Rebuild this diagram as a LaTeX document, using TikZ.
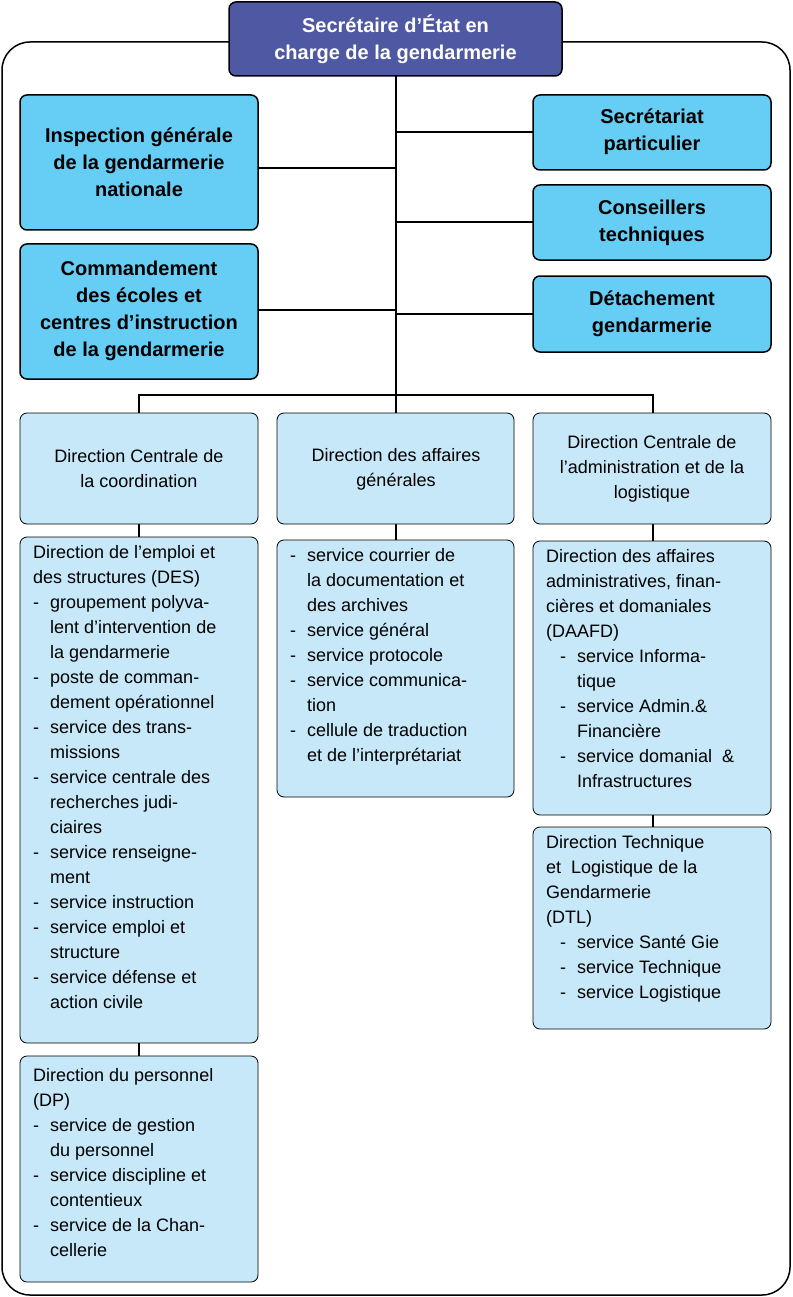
\documentclass[tikz,border=0pt]{standalone}
\usepackage{fontspec}
\setmainfont{Liberation Sans}
\definecolor{topc}{HTML}{4F58A2}
\definecolor{midc}{HTML}{66CDF5}
\definecolor{lowc}{HTML}{C7E8F8}
\newcommand{\itm}[1]{\makebox[17pt][l]{-}#1}
\newcommand{\cnt}[1]{\hspace*{17pt}#1}
\begin{document}
\begin{tikzpicture}[x=1pt,y=-1pt,
  bx/.style={draw=black,line width=1.2pt,rounded corners=7pt},
  topbox/.style={bx,fill=topc,line width=1.5pt},
  midbox/.style={bx,fill=midc,line width=1.5pt},
  lowbox/.style={bx,fill=lowc,line width=0.8pt},
  bold/.style={font=\fontsize{20}{27}\selectfont\bfseries,align=center},
  plain/.style={font=\fontsize{18}{25}\selectfont,align=center},
  lst/.style={font=\fontsize{18}{25}\selectfont,align=left,inner sep=0pt,anchor=north west},
  ln/.style={line width=1.5pt}]
\useasboundingbox (0,0) rectangle (792,1297);
\draw[line width=1.5pt,rounded corners=28pt] (2,42) rectangle (790,1295);
% connectors
\coordinate (tb) at (396,76);
\coordinate (bar) at (396,395);
\draw[ln] (tb) -- (bar);
\draw[ln] (258,168) -- (396,168);
\draw[ln] (258,310) -- (396,310);
\draw[ln] (396,132) -- (533,132);
\draw[ln] (396,222) -- (533,222);
\draw[ln] (396,314) -- (533,314);
\draw[ln] (139,413) -- (139,395) -- (653,395) -- (653,413);
\draw[ln] (396,395) -- (396,413);
\draw[ln] (139,524) -- (139,537);
\draw[ln] (139,1043) -- (139,1056);
\draw[ln] (396,524) -- (396,540);
\draw[ln] (653,524) -- (653,541);
\draw[ln] (653,815) -- (653,827);
% top
\draw[topbox] (229,2) rectangle (562,76);
\node[bold,text=white] (top) at (395.5,39) {Secrétaire d’État en\\charge de la gendarmerie};
% mid boxes
\draw[midbox] (20,95) rectangle (258,230);
\node[bold] (ig) at (139,162) {Inspection générale\\de la gendarmerie\\nationale};
\draw[midbox] (20,244) rectangle (258,379);
\node[bold] (ce) at (139,311) {Commandement\\des écoles et\\centres d’instruction\\de la gendarmerie};
\draw[midbox] (533,95) rectangle (771,170);
\node[bold] (sp) at (652,132) {Secrétariat\\particulier};
\draw[midbox] (533,185) rectangle (771,260);
\node[bold] (ct) at (652,223) {Conseillers\\techniques};
\draw[midbox] (533,276) rectangle (771,352);
\node[bold] (dg) at (652,314) {Détachement\\gendarmerie};
% level 3
\draw[lowbox] (20,413) rectangle (258,524);
\node[plain] (dcc) at (139,469) {Direction Centrale de\\la coordination};
\draw[lowbox] (277,413) rectangle (514,524);
\node[plain] (dag) at (396,469) {Direction des affaires\\générales};
\draw[lowbox] (533,413) rectangle (771,524);
\node[plain] (dca) at (652,469) {Direction Centrale de\\l’administration et de la\\logistique};
% col1
\draw[lowbox] (20,537) rectangle (258,1043);
\node[lst] (des) at (33,545) {Direction de l’emploi et\\des structures (DES)\\
\itm{groupement polyva-}\\\cnt{lent d’intervention de}\\\cnt{la gendarmerie}\\
\itm{poste de comman-}\\\cnt{dement opérationnel}\\
\itm{service des trans-}\\\cnt{missions}\\
\itm{service centrale des}\\\cnt{recherches judi-}\\\cnt{ciaires}\\
\itm{service renseigne-}\\\cnt{ment}\\
\itm{service instruction}\\
\itm{service emploi et}\\\cnt{structure}\\
\itm{service défense et}\\\cnt{action civile}};
\draw[lowbox] (20,1056) rectangle (258,1282);
\node[lst] (dp) at (33,1068) {Direction du personnel\\(DP)\\
\itm{service de gestion}\\\cnt{du personnel}\\
\itm{service discipline et}\\\cnt{contentieux}\\
\itm{service de la Chan-}\\\cnt{cellerie}};
% col2
\draw[lowbox] (277,540) rectangle (514,797);
\node[lst] (sv) at (290,548) {\itm{service courrier de}\\\cnt{la documentation et}\\\cnt{des archives}\\
\itm{service général}\\\itm{service protocole}\\
\itm{service communica-}\\\cnt{tion}\\
\itm{cellule de traduction}\\\cnt{et de l’interprétariat}};
% col3
\draw[lowbox] (533,541) rectangle (771,815);
\node[lst] (daafd) at (546,549) {Direction des affaires\\administratives, finan-\\cières et domaniales\\(DAAFD)\\
\hspace*{14pt}\itm{service Informa-}\\\hspace*{14pt}\cnt{tique}\\
\hspace*{14pt}\itm{service Admin.\& }\\\hspace*{14pt}\cnt{Financière}\\
\hspace*{14pt}\itm{service domanial\ \ \&}\\\hspace*{14pt}\cnt{Infrastructures}};
\draw[lowbox] (533,827) rectangle (771,1029);
\node[lst] (dtl) at (546,835) {Direction Technique\\et\ \ Logistique de la\\Gendarmerie\\(DTL)\\
\hspace*{14pt}\itm{service Santé Gie}\\
\hspace*{14pt}\itm{service Technique}\\
\hspace*{14pt}\itm{service Logistique}};
\end{tikzpicture}
\end{document}
